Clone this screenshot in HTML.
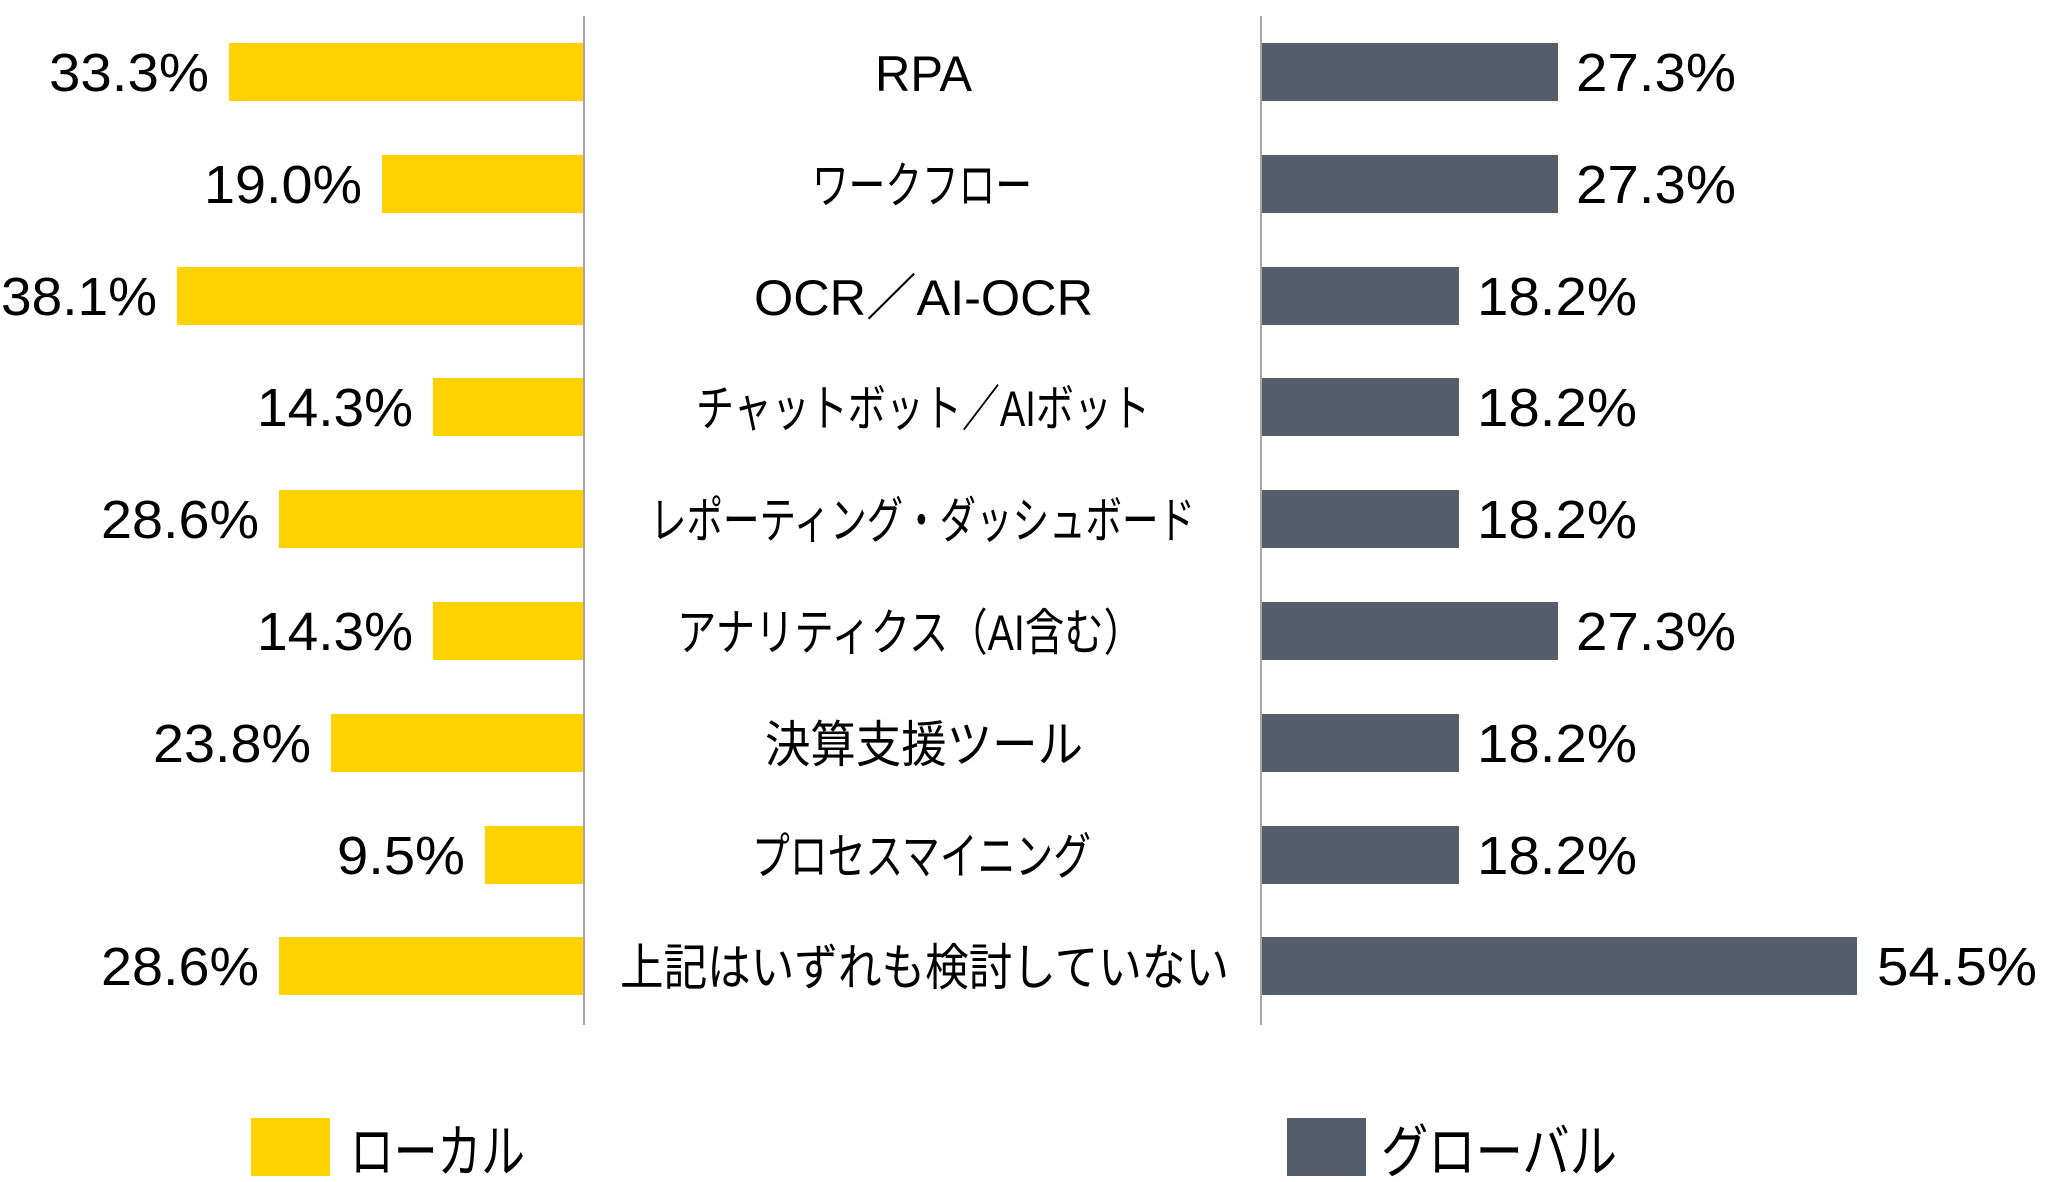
<!DOCTYPE html>
<html><head><meta charset="utf-8"><style>html,body{margin:0;padding:0;background:#fff}svg{display:block}</style></head>
<body>
<svg width="2048" height="1182" viewBox="0 0 2048 1182" xmlns="http://www.w3.org/2000/svg">
<g fill="#FFD200">
<rect x="229" y="43" width="354" height="58"/>
<rect x="382" y="155" width="201" height="58"/>
<rect x="177" y="267" width="406" height="58"/>
<rect x="433" y="378" width="150" height="58"/>
<rect x="279" y="490" width="304" height="58"/>
<rect x="433" y="602" width="150" height="58"/>
<rect x="331" y="714" width="252" height="58"/>
<rect x="485" y="826" width="98" height="58"/>
<rect x="279" y="937" width="304" height="58"/>
</g>
<g fill="#545F6B">
<rect x="1261" y="43" width="297" height="58"/>
<rect x="1261" y="155" width="297" height="58"/>
<rect x="1261" y="267" width="198" height="58"/>
<rect x="1261" y="378" width="198" height="58"/>
<rect x="1261" y="490" width="198" height="58"/>
<rect x="1261" y="602" width="297" height="58"/>
<rect x="1261" y="714" width="198" height="58"/>
<rect x="1261" y="826" width="198" height="58"/>
<rect x="1261" y="937" width="596" height="58"/>
</g>
<line x1="584" y1="16" x2="584" y2="1025" stroke="#A6A6A6" stroke-width="2"/>
<line x1="1261" y1="16" x2="1261" y2="1025" stroke="#A6A6A6" stroke-width="2"/>
<g font-family="Liberation Sans, sans-serif" font-size="54" fill="#000" text-anchor="end">
<text x="209" y="91" textLength="160" lengthAdjust="spacingAndGlyphs">33.3%</text>
<text x="362" y="203" textLength="158" lengthAdjust="spacingAndGlyphs">19.0%</text>
<text x="157" y="315" textLength="156" lengthAdjust="spacingAndGlyphs">38.1%</text>
<text x="413" y="426" textLength="156" lengthAdjust="spacingAndGlyphs">14.3%</text>
<text x="259" y="538" textLength="158" lengthAdjust="spacingAndGlyphs">28.6%</text>
<text x="413" y="650" textLength="156" lengthAdjust="spacingAndGlyphs">14.3%</text>
<text x="311" y="762" textLength="158" lengthAdjust="spacingAndGlyphs">23.8%</text>
<text x="465" y="874" textLength="128" lengthAdjust="spacingAndGlyphs">9.5%</text>
<text x="259" y="985" textLength="158" lengthAdjust="spacingAndGlyphs">28.6%</text>
</g>
<g font-family="Liberation Sans, sans-serif" font-size="54" fill="#000">
<text x="1576" y="91" textLength="160" lengthAdjust="spacingAndGlyphs">27.3%</text>
<text x="1576" y="203" textLength="160" lengthAdjust="spacingAndGlyphs">27.3%</text>
<text x="1477" y="315" textLength="160" lengthAdjust="spacingAndGlyphs">18.2%</text>
<text x="1477" y="426" textLength="160" lengthAdjust="spacingAndGlyphs">18.2%</text>
<text x="1477" y="538" textLength="160" lengthAdjust="spacingAndGlyphs">18.2%</text>
<text x="1576" y="650" textLength="160" lengthAdjust="spacingAndGlyphs">27.3%</text>
<text x="1477" y="762" textLength="160" lengthAdjust="spacingAndGlyphs">18.2%</text>
<text x="1477" y="874" textLength="160" lengthAdjust="spacingAndGlyphs">18.2%</text>
<text x="1877" y="985" textLength="160" lengthAdjust="spacingAndGlyphs">54.5%</text>
</g>
<g font-family="Liberation Sans, Noto Sans CJK JP, sans-serif" font-size="50" fill="#000">
<text x="875" y="91" textLength="97" lengthAdjust="spacingAndGlyphs">RPA</text>
<text x="812" y="203" textLength="220" lengthAdjust="spacingAndGlyphs">ワークフロー</text>
<text x="754" y="315" textLength="339" lengthAdjust="spacingAndGlyphs">OCR／AI-OCR</text>
<text x="696" y="426" textLength="454" lengthAdjust="spacingAndGlyphs">チャットボット／AIボット</text>
<text x="650" y="538" textLength="545" lengthAdjust="spacingAndGlyphs">レポーティング・ダッシュボード</text>
<text x="677" y="650" textLength="466" lengthAdjust="spacingAndGlyphs">アナリティクス（AI含む）</text>
<text x="765" y="762" textLength="318" lengthAdjust="spacingAndGlyphs">決算支援ツール</text>
<text x="752" y="874" textLength="339" lengthAdjust="spacingAndGlyphs">プロセスマイニング</text>
<text x="620" y="985" textLength="609" lengthAdjust="spacingAndGlyphs">上記はいずれも検討していない</text>
</g>
<rect x="251" y="1118" width="79" height="58" fill="#FFD200"/>
<rect x="1287" y="1118" width="79" height="58" fill="#545F6B"/>
<g font-family="Liberation Sans, Noto Sans CJK JP, sans-serif" font-size="58" fill="#000">
<text x="350" y="1172" textLength="175" lengthAdjust="spacingAndGlyphs">ローカル</text>
<text x="1381" y="1172" textLength="236" lengthAdjust="spacingAndGlyphs">グローバル</text>
</g>
</svg>
</body></html>
